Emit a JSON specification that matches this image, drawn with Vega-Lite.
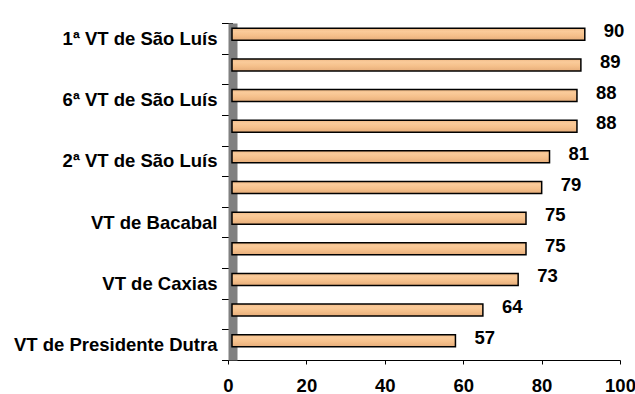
{
  "$schema": "https://vega.github.io/schema/vega-lite/v6.json",
  "width": 392,
  "height": 337,
  "autosize": {"type": "none"},
  "padding": {"left": 228, "top": 23, "right": 15, "bottom": 34},
  "background": "white",
  "config": {
    "view": {"stroke": null},
    "font": "Liberation Sans"
  },
  "data": {
    "values": [
      {"vara": "1ª VT de São Luís", "valor": 90},
      {"vara": "(sem rótulo 1)", "valor": 89},
      {"vara": "6ª VT de São Luís", "valor": 88},
      {"vara": "(sem rótulo 2)", "valor": 88},
      {"vara": "2ª VT de São Luís", "valor": 81},
      {"vara": "(sem rótulo 3)", "valor": 79},
      {"vara": "VT de Bacabal", "valor": 75},
      {"vara": "(sem rótulo 4)", "valor": 75},
      {"vara": "VT de Caxias", "valor": 73},
      {"vara": "(sem rótulo 5)", "valor": 64},
      {"vara": "VT de Presidente Dutra", "valor": 57}
    ]
  },
  "encoding": {
    "y": {
      "field": "vara",
      "type": "nominal",
      "sort": null,
      "scale": {"paddingInner": 0, "paddingOuter": 0},
      "axis": {
        "title": null,
        "tickBand": "extent",
        "tickSize": 11,
        "tickColor": "black",
        "tickWidth": 1,
        "domainColor": "#808080",
        "domainWidth": 9,
        "offset": -4.5,
        "labelPadding": 4.5,
        "labelLimit": 0,
        "labelFont": "Liberation Sans",
        "labelFontWeight": "bold",
        "labelFontSize": 18.5,
        "labelColor": "black",
        "labelExpr": "indexof(datum.label, '(') == 0 ? '' : datum.label"
      }
    },
    "x": {
      "field": "valor",
      "type": "quantitative",
      "scale": {"domain": [0, 100], "nice": false},
      "axis": {
        "title": null,
        "values": [0, 20, 40, 60, 80, 100],
        "grid": false,
        "domainColor": "black",
        "domainWidth": 1,
        "tickColor": "black",
        "tickSize": 4,
        "labelPadding": 12,
        "labelFlush": false,
        "labelFont": "Liberation Sans",
        "labelFontWeight": "bold",
        "labelFontSize": 18.5,
        "labelColor": "black"
      }
    }
  },
  "layer": [
    {
      "mark": {
        "type": "bar",
        "height": 12,
        "color": {
          "gradient": "linear",
          "x1": 0, "y1": 0, "x2": 0, "y2": 1,
          "stops": [
            {"offset": 0, "color": "#F0BA86"},
            {"offset": 0.25, "color": "#FACB9A"},
            {"offset": 0.6, "color": "#F5C08B"},
            {"offset": 1, "color": "#E6AD7A"}
          ]
        },
        "stroke": "black",
        "strokeWidth": 1.5,
        "xOffset": 4,
        "yOffset": -4
      }
    },
    {
      "mark": {
        "type": "text",
        "align": "left",
        "baseline": "middle",
        "dx": 23,
        "dy": -7,
        "font": "Liberation Sans",
        "fontWeight": "bold",
        "fontSize": 18.5,
        "color": "black"
      },
      "encoding": {
        "text": {"field": "valor", "type": "quantitative"}
      }
    }
  ]
}
